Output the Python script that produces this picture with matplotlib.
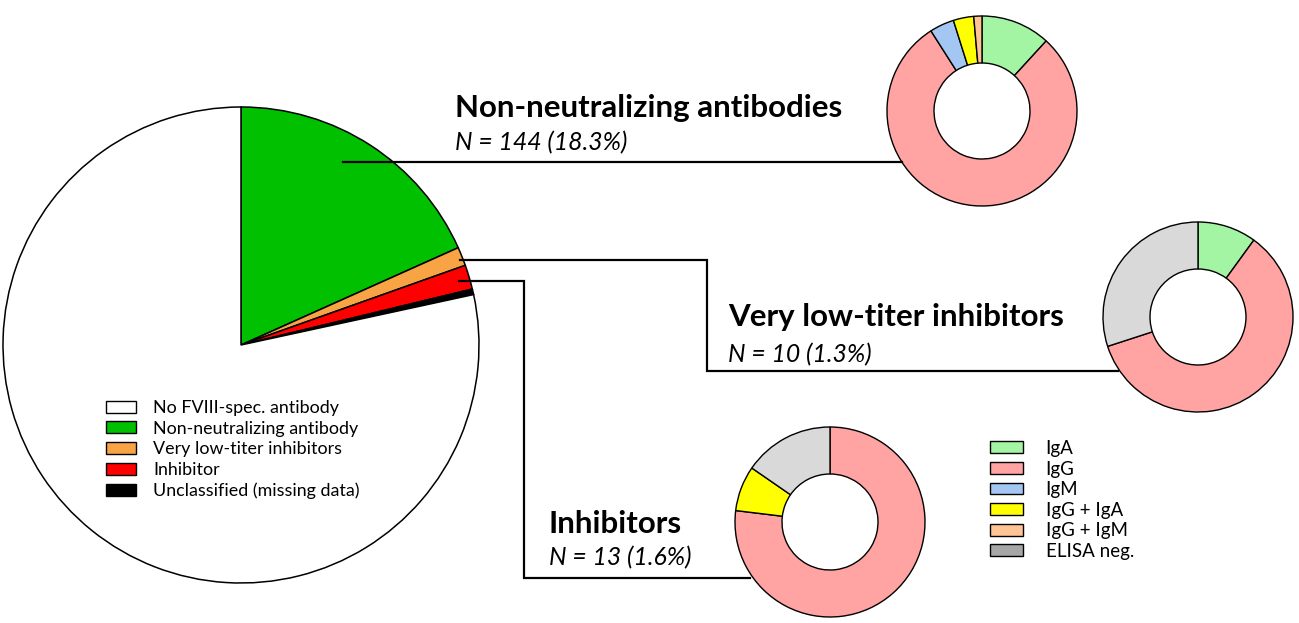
import matplotlib.pyplot as plt
from matplotlib.patches import Patch

W, H = 1299, 623

# whole cohort (drawn clockwise from 12 o'clock)
main_labels = ['Non-neutralizing antibody', 'Very low-titer inhibitors', 'Inhibitor',
               'Unclassified (missing data)', 'No FVIII-spec. antibody']
main_counts = [144, 10, 13, 3, 617]
main_colors = ['#00c000', '#f9a444', '#ff0000', '#000000', '#ffffff']
legend_order = [4, 0, 1, 2, 3]

# antibody isotypes within each group
iso_labels = ['IgA', 'IgG', 'IgM', 'IgG + IgA', 'IgG + IgM', 'ELISA neg.']
iso_colors = ['#a3f5a3', '#ffa3a3', '#a3c6f2', '#ffff00', '#ffc494', '#d9d9d9']
iso_legend_colors = ['#a3f5a3', '#ffa3a3', '#a3c6f2', '#ffff00', '#ffc494', '#a6a6a6']
nonneut_counts = [17, 114, 6, 5, 2, 0]
vlti_counts = [1, 6, 0, 0, 0, 3]
inhib_counts = [0, 10, 0, 1, 0, 2]

group_titles = ['Non-neutralizing antibodies', 'Very low-titer inhibitors', 'Inhibitors']
group_n = [144, 10, 13]
group_pct = [18.3, 1.3, 1.6]

plt.rcParams['font.family'] = ['Lato', 'DejaVu Sans']

fig = plt.figure(figsize=(W / 100, H / 100), dpi=100)
ax = fig.add_axes([0, 0, 1, 1])


def yy(y):
    # image row -> data y
    return H - y


ax.pie(main_counts, colors=main_colors, startangle=90, counterclock=False,
       center=(241, yy(345)), radius=238,
       wedgeprops=dict(edgecolor='black', linewidth=1.1))

donuts = [(nonneut_counts, (982, 111)), (vlti_counts, (1198, 317)), (inhib_counts, (830, 522))]
for counts, (cx, cy) in donuts:
    vals = [c for c in counts if c > 0]
    cols = [iso_colors[i] for i, c in enumerate(counts) if c > 0]
    ax.pie(vals, colors=cols, startangle=90, counterclock=False,
           center=(cx, yy(cy)), radius=95,
           wedgeprops=dict(width=47, edgecolor='black', linewidth=1.0))

# connector lines
lines = [
    [(343, 162), (902, 162)],
    [(460, 260), (707, 260), (707, 371), (1118, 371)],
    [(459, 281), (524, 281), (524, 578), (750, 578)],
]
for pts in lines:
    ax.plot([p[0] for p in pts], [yy(p[1]) for p in pts], color='black', lw=1.6,
            solid_joinstyle='miter', zorder=1)

text_pos = [(455, 117, 150), (728, 326, 362), (549, 533, 565)]
for title, n, pct, (tx, ty1, ty2) in zip(group_titles, group_n, group_pct, text_pos):
    ax.text(tx, yy(ty1), title, fontsize=22.5, fontweight='bold', va='baseline', ha='left')
    ax.text(tx, yy(ty2), 'N = {} ({}%)'.format(n, pct), fontsize=17.8, style='italic',
            va='baseline', ha='left')

h_main = [Patch(facecolor=main_colors[i], edgecolor='black', linewidth=1.0) for i in legend_order]
leg1 = ax.legend(h_main, [main_labels[i] for i in legend_order], loc='upper left',
                 bbox_to_anchor=(106, yy(400)), bbox_transform=ax.transData,
                 frameon=False, fontsize=12.9, handlelength=1.67, handleheight=0.67,
                 handletextpad=0.95, labelspacing=0.26, borderpad=0, borderaxespad=0)
ax.add_artist(leg1)

h_iso = [Patch(facecolor=c, edgecolor='black', linewidth=1.0) for c in iso_legend_colors]
ax.legend(h_iso, iso_labels, loc='upper left',
          bbox_to_anchor=(990, yy(440)), bbox_transform=ax.transData,
          frameon=False, fontsize=13.5, handlelength=1.76, handleheight=0.6,
          handletextpad=1.2, labelspacing=0.19, borderpad=0, borderaxespad=0)

ax.set_xlim(0, W)
ax.set_ylim(0, H)
ax.set_aspect('equal')
ax.axis('off')

fig.savefig('out.png', dpi=100)
